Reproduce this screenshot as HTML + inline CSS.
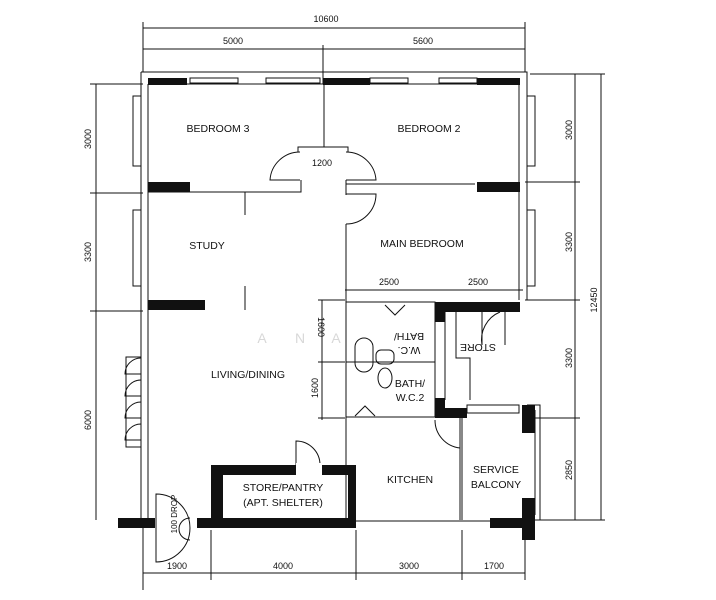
<!DOCTYPE html>
<html><head><meta charset="utf-8"><style>
html,body{margin:0;padding:0;background:#fff;width:716px;height:600px;overflow:hidden}
svg{display:block}
text{font-family:"Liberation Sans",sans-serif;fill:#111}
</style></head><body>
<svg width="716" height="600" viewBox="0 0 716 600" xmlns="http://www.w3.org/2000/svg">
<g stroke="#111" stroke-width="1" fill="none">
<line x1="143" y1="28" x2="525" y2="28"/>
<line x1="143" y1="22" x2="143" y2="72"/><line x1="525" y1="22" x2="525" y2="72"/>
<line x1="143" y1="49" x2="525" y2="49"/><line x1="323" y1="45" x2="323" y2="84"/>
<line x1="143" y1="573" x2="525" y2="573"/>
<line x1="143" y1="528" x2="143" y2="580"/><line x1="211" y1="530" x2="211" y2="580"/>
<line x1="356" y1="530" x2="356" y2="580"/><line x1="462" y1="530" x2="462" y2="580"/>
<line x1="525" y1="540" x2="525" y2="580"/>
<line x1="96" y1="84" x2="96" y2="520"/>
<line x1="90" y1="84" x2="143" y2="84"/><line x1="90" y1="193" x2="143" y2="193"/><line x1="90" y1="311" x2="143" y2="311"/>
<line x1="575" y1="74" x2="575" y2="520"/><line x1="601" y1="74" x2="601" y2="520"/>
<line x1="530" y1="74" x2="605" y2="74"/><line x1="525" y1="182" x2="580" y2="182"/>
<line x1="525" y1="300" x2="580" y2="300"/><line x1="535" y1="418" x2="580" y2="418"/>
<line x1="535" y1="520" x2="605" y2="520"/>
<path d="M141 72 H527 V300"/><path d="M148 84 H519 V300"/>
<path d="M141 72 V518 M148 84 V518"/>
<rect x="133" y="96" width="8" height="70"/><rect x="133" y="210" width="8" height="76"/>
<rect x="527" y="96" width="8" height="70"/><rect x="527" y="210" width="8" height="76"/>
<rect x="190" y="78" width="48" height="5"/><rect x="266" y="78" width="54" height="5"/>
<rect x="370" y="78" width="38" height="5"/><rect x="439" y="78" width="38" height="5"/>
<line x1="324" y1="84" x2="324" y2="147"/>
<path d="M298 152 V147 H348 V152"/>
<path d="M300 152 A 30 30 0 0 0 270 180 H300"/><path d="M346 152 A 30 30 0 0 1 376 180 H346"/>
<path d="M148 192 H301 V180"/><path d="M346 180 V195 M346 184 H475"/>
<line x1="245" y1="192" x2="245" y2="215"/><line x1="245" y1="286" x2="245" y2="310"/>
<path d="M346 194 H376 A 30 30 0 0 1 346 224"/>
<line x1="346" y1="224" x2="346" y2="520"/>
<line x1="345" y1="290" x2="523" y2="290"/>
<line x1="322" y1="300" x2="322" y2="420"/>
<line x1="318" y1="300" x2="345" y2="300"/><line x1="318" y1="362" x2="345" y2="362"/><line x1="318" y1="418" x2="345" y2="418"/>
<rect x="346" y="302" width="89" height="115"/>
<line x1="346" y1="362" x2="435" y2="362"/>
<path d="M385 305 L395 315 L405 305"/><path d="M355 416 L365 406 L375 416"/>
<rect x="355" y="338" width="18" height="34" rx="9"/>
<rect x="376" y="350" width="18" height="14" rx="5"/><ellipse cx="385" cy="378" rx="7" ry="10"/>
<path d="M445 312 V400 M456 312 V358 H470 V400"/>
<path d="M482 312 V345 A 30 30 0 0 1 500 312"/><path d="M505 312 V345"/>
<rect x="467" y="405" width="52" height="8"/>
<path d="M460 418 V520 M462 418 V520"/>
<path d="M435 420 A 28 28 0 0 0 460 448"/>
<path d="M527 405 H540 V520 M535 410 V515"/>
<line x1="356" y1="521" x2="525" y2="521"/>
<path d="M296 465 V441 A 24 24 0 0 1 320 465"/>
<path d="M141 358 A 16 16 0 0 0 125 374 H141"/><path d="M141 380 A 16 16 0 0 0 125 396 H141"/>
<path d="M141 402 A 16 16 0 0 0 125 418 H141"/><path d="M141 424 A 16 16 0 0 0 125 440 H141"/>
<rect x="126" y="357" width="15" height="90"/>
<path d="M156 494 A 34 34 0 0 1 156 562 Z"/>
<path d="M190 518 A 10 10 0 0 0 190 540"/>
<line x1="143" y1="528" x2="143" y2="590"/>
</g>
<g fill="#111">
<rect x="148" y="78" width="39" height="7"/><rect x="323" y="78" width="47" height="7"/><rect x="477" y="78" width="43" height="7"/>
<rect x="148" y="182" width="42" height="10"/><rect x="477" y="182" width="43" height="10"/>
<rect x="148" y="300" width="57" height="10"/>
<rect x="435" y="302" width="85" height="10"/><rect x="435" y="302" width="10" height="20"/>
<rect x="435" y="398" width="10" height="20"/><rect x="435" y="408" width="32" height="10"/>
<rect x="522" y="405" width="13" height="28"/><rect x="522" y="498" width="13" height="42"/>
<rect x="490" y="518" width="35" height="10"/>
<rect x="118" y="518" width="37" height="10"/><rect x="197" y="518" width="159" height="10"/>
<path d="M211 465 H356 V528 H211 Z M223 475 V518 H348 V475 Z" fill-rule="evenodd"/>
<rect x="296" y="463" width="26" height="14" fill="#fff"/>
</g>
<g font-size="9" text-anchor="middle">
<text x="326" y="22">10600</text><text x="233" y="44">5000</text><text x="423" y="44">5600</text>
<text x="322" y="166">1200</text><text x="389" y="285">2500</text><text x="478" y="285">2500</text>
<text x="177" y="569">1900</text><text x="283" y="569">4000</text><text x="409" y="569">3000</text><text x="494" y="569">1700</text>
<text transform="translate(91,139) rotate(-90)">3000</text>
<text transform="translate(91,252) rotate(-90)">3300</text>
<text transform="translate(91,420) rotate(-90)">6000</text>
<text transform="translate(572,130) rotate(-90)">3000</text>
<text transform="translate(572,242) rotate(-90)">3300</text>
<text transform="translate(572,358) rotate(-90)">3300</text>
<text transform="translate(572,470) rotate(-90)">2850</text>
<text transform="translate(597,300) rotate(-90)">12450</text>
<text transform="translate(318,388) rotate(-90)">1600</text>
<text transform="translate(318,327) rotate(90)">1600</text>
<text transform="translate(177,514) rotate(-90)" font-size="8">100 DROP</text>
</g>
<g font-size="10.5" text-anchor="middle">
<text x="218" y="132">BEDROOM 3</text><text x="429" y="132">BEDROOM 2</text>
<text x="207" y="249">STUDY</text><text x="422" y="247">MAIN BEDROOM</text>
<text x="248" y="378">LIVING/DINING</text>
<text x="410" y="387">BATH/</text><text x="410" y="401">W.C.2</text>
<text x="410" y="483">KITCHEN</text>
<text x="496" y="473">SERVICE</text><text x="496" y="488">BALCONY</text>
<text x="283" y="491">STORE/PANTRY</text><text x="283" y="506">(APT. SHELTER)</text>
<text x="409" y="333" transform="rotate(180 409 333)">BATH/</text>
<text x="409" y="347" transform="rotate(180 409 347)">W.C.</text>
<text x="478" y="352" transform="rotate(180 478 348)">STORE</text>
</g>
<g font-size="14" text-anchor="middle"><text x="262" y="343" style="fill:#d8d8d8">A</text><text x="300" y="343" style="fill:#d8d8d8">N</text><text x="336" y="343" style="fill:#d8d8d8">A</text></g>
</svg>
</body></html>
